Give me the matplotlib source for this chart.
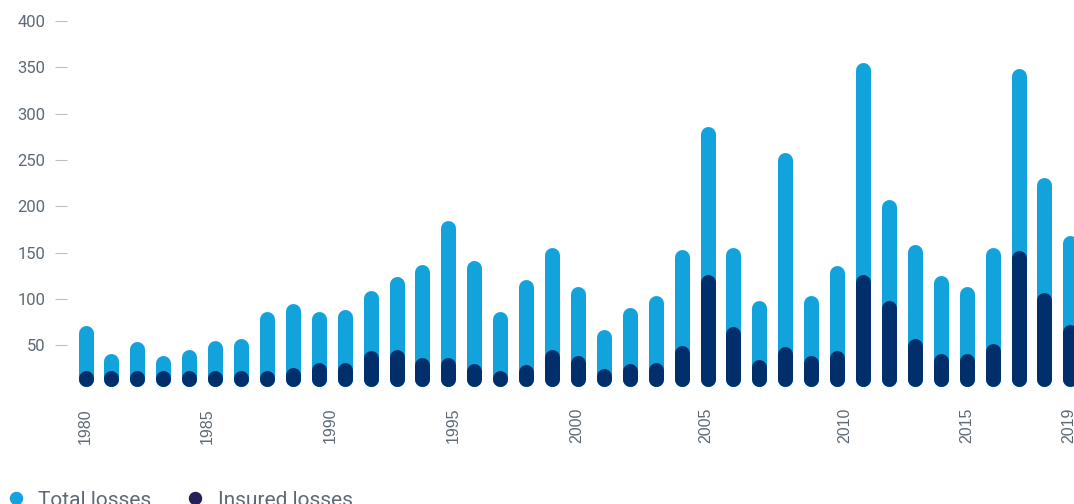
import matplotlib
matplotlib.use("Agg")
import matplotlib.pyplot as plt
from matplotlib.lines import Line2D

# Annual natural-catastrophe losses (US$ bn), 1981-2019
years = list(range(1981, 2020))
total_losses = [71, 41, 54, 39, 45, 55, 57, 86, 95, 86,
                89, 109, 124, 137, 185, 142, 87, 121, 156, 113,
                67, 91, 104, 153, 286, 156, 98, 258, 104, 136,
                355, 207, 159, 125, 113, 156, 349, 231, 169]
insured_losses = [22, 22, 22, 22, 23, 22, 22, 22, 26, 31,
                  32, 44, 46, 37, 37, 30, 22, 29, 45, 39,
                  25, 30, 32, 50, 126, 70, 35, 49, 39, 44,
                  126, 98, 57, 41, 41, 52, 152, 107, 72]
y_ticks = [50, 100, 150, 200, 250, 300, 350, 400]
x_tick_labels = ["1980", "1985", "1990", "1995", "2000", "2005", "2010", "2015", "2019"]
x_tick_slots = [0.0, 4.71, 9.46, 14.19, 18.95, 23.92, 29.30, 33.99, 37.92]

LIGHT = "#12a3dd"
DARK = "#002f6b"
LEGEND_DARK = "#24205a"
TEXT = "#5d6a75"
TICK = "#b9c0c7"

W, H, DPI = 1074, 504, 100
fig = plt.figure(figsize=(W / DPI, H / DPI), dpi=DPI)
fig.patch.set_facecolor("white")

left_px, zero_px = 67, 391.7
ax = fig.add_axes([left_px / W, 1 - zero_px / H, 1 - left_px / W, zero_px / H])
ymax = 422.5
ax.set_ylim(0, ymax)
ax.set_xlim(-0.714, 38.14)

# rounded bars: thick vertical segments with round caps
bar_px = 15
lw_pt = bar_px * 72 / DPI
px_per_unit = zero_px / ymax
r = (bar_px / 2) / px_per_unit
base = 5.5
min_len = 0.8  # keep a short stub so the round caps still render as a dot
xs = list(range(len(years)))
lo = [base + r] * len(xs)
hi_total = [max(v - r, base + r + min_len) for v in total_losses]
hi_ins = [max(v - r, base + r + min_len) for v in insured_losses]
ax.vlines(xs, lo, hi_total, colors=LIGHT, linewidth=lw_pt, capstyle="round",
          clip_on=False, zorder=2)
ax.vlines(xs, lo, hi_ins, colors=DARK, linewidth=lw_pt, capstyle="round",
          clip_on=False, zorder=3)

for s in ax.spines.values():
    s.set_visible(False)

ax.set_yticks(y_ticks)
ax.set_yticklabels([str(v) for v in y_ticks], fontfamily="Roboto")
ax.tick_params(axis="y", direction="out", length=12 * 72 / DPI, width=0.8,
               color=TICK, pad=6.7, labelsize=12, labelcolor=TEXT)

ax.set_xticks(x_tick_slots)
ax.set_xticklabels(x_tick_labels, rotation=90, fontfamily="Liberation Sans")
ax.tick_params(axis="x", length=0, pad=11.7, labelsize=11.5, labelcolor=TEXT)

# legend along the bottom edge
for cx, col, label, tx in [(16, LIGHT, "Total losses", 38),
                           (195, LEGEND_DARK, "Insured losses", 218)]:
    fig.add_artist(Line2D([cx / W], [1 - 498 / H], marker="o", markersize=12 * 72 / DPI,
                          color=col, linestyle="none", transform=fig.transFigure))
    fig.text(tx / W, 1 - 505.5 / H, label, fontsize=15, color=TEXT,
             fontfamily="Roboto", va="baseline", ha="left")

fig.savefig("out.png", dpi=DPI, facecolor="white")
